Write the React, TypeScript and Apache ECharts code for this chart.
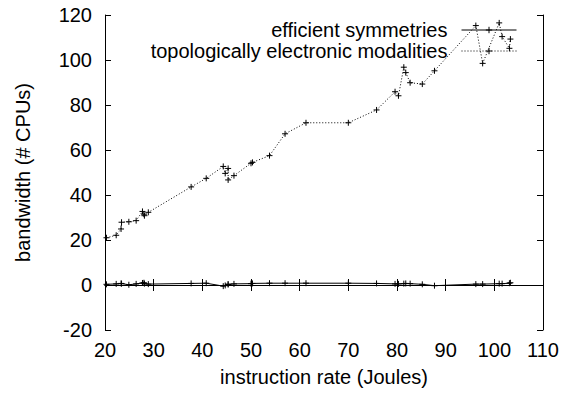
import React, { useEffect, useRef } from "react";
import * as echarts from "echarts";

const xValues = [20.3, 22.3, 23.3, 23.4, 24.9, 26.4, 27.7, 28.0, 28.1, 28.9, 37.7, 40.8, 44.3, 44.7, 45.3, 45.3, 46.5, 50.0, 50.3, 53.8, 57.0, 61.3, 70.0, 75.8, 79.6, 80.3, 81.4, 81.8, 82.7, 85.2, 87.7, 96.2, 97.6, 101.0, 101.6, 103.1, 103.3];
const efficientSymmetries = [0.3, 0.5, 0.7, 0.6, 0.1, 0.5, 0.9, 1.0, 0.6, 0.4, 0.7, 0.8, -0.5, -0.2, 0.2, 0.4, 0.5, 0.6, 0.7, 0.8, 0.8, 0.8, 0.8, 0.7, 0.5, 0.5, 0.6, 0.7, 0.6, 0.3, -0.3, 0.4, 0.4, 0.6, 0.6, 0.8, 1.0];
const topologicallyElectronic = [21.0, 22.1, 24.9, 27.9, 28.1, 28.6, 32.7, 31.5, 30.8, 32.3, 43.6, 47.4, 52.7, 49.6, 51.8, 46.7, 48.6, 54.1, 54.5, 57.5, 67.2, 72.1, 72.1, 77.8, 85.9, 84.1, 96.8, 94.4, 89.9, 89.3, 95.2, 115.3, 98.5, 116.5, 110.4, 105.2, 109.3];
const seriesNames = ["efficient symmetries", "topologically electronic modalities"];
const xTitle = "instruction rate (Joules)";
const yTitle = "bandwidth (# CPUs)";

const FONT = "'Liberation Sans', Arial, Helvetica, sans-serif";
const PLUS = "path://M0,5L10,5M5,0L5,10";

export default function App() {
  const ref = useRef<HTMLDivElement>(null);
  useEffect(() => {
    if (!ref.current) return;
    const chart = echarts.init(ref.current, undefined, { renderer: "svg" });
    const axisCommon = {
      axisLine: { show: true, lineStyle: { color: "#000", width: 1 } },
      axisTick: { show: true, inside: true, length: 6, lineStyle: { color: "#000", width: 1 } },
      splitLine: { show: false },
    };
    const labelStyle = { color: "#000", fontSize: 20, fontFamily: FONT };
    chart.setOption({
      animation: false,
      backgroundColor: "#fff",
      textStyle: { fontFamily: FONT },
      grid: { left: 105, right: 27, top: 15, bottom: 66, containLabel: false },
      legend: {
        orient: "vertical",
        align: "right",
        right: 53,
        top: 20,
        padding: 0,
        itemWidth: 55,
        itemHeight: 8,
        itemGap: 1,
        selectedMode: false,
        textStyle: { ...labelStyle, padding: [0, 9, 0, 0] },
        itemStyle: { borderWidth: 1, borderColor: "#000" },
        lineStyle: { width: 1 },
        data: seriesNames,
      },
      xAxis: [
        {
          type: "value",
          position: "bottom",
          min: 20,
          max: 110,
          interval: 10,
          ...axisCommon,
          axisLabel: { ...labelStyle, margin: 10 },
          name: xTitle,
          nameLocation: "middle",
          nameGap: 37,
          nameTextStyle: labelStyle,
        },
        {
          type: "value",
          position: "top",
          min: 20,
          max: 110,
          interval: 10,
          ...axisCommon,
          axisLabel: { show: false },
        },
      ],
      yAxis: [
        {
          type: "value",
          position: "left",
          min: -20,
          max: 120,
          interval: 20,
          ...axisCommon,
          axisLabel: { ...labelStyle, margin: 13 },
          name: yTitle,
          nameLocation: "middle",
          nameGap: 72,
          nameTextStyle: labelStyle,
        },
        {
          type: "value",
          position: "right",
          min: -20,
          max: 120,
          interval: 20,
          ...axisCommon,
          axisLabel: { show: false },
        },
      ],
      series: [
        {
          name: seriesNames[0],
          type: "line",
          xAxisIndex: 0,
          yAxisIndex: 0,
          data: xValues.map((x, i) => [x, efficientSymmetries[i]]),
          symbol: PLUS,
          symbolSize: 6,
          showAllSymbol: true,
          lineStyle: { color: "#000", width: 1, type: "solid" },
          itemStyle: { color: "#000", borderColor: "#000", borderWidth: 1 },
        },
        {
          name: seriesNames[1],
          type: "line",
          xAxisIndex: 0,
          yAxisIndex: 0,
          data: xValues.map((x, i) => [x, topologicallyElectronic[i]]),
          symbol: PLUS,
          symbolSize: 6,
          showAllSymbol: true,
          lineStyle: { color: "#000", width: 1, type: [1, 2] },
          itemStyle: { color: "#000", borderColor: "#000", borderWidth: 1 },
        },
      ],
    });
    return () => chart.dispose();
  }, []);
  return (
    <div
      ref={ref}
      style={{ position: "fixed", left: 0, top: 0, width: 570, height: 396, background: "#fff" }}
    />
  );
}
